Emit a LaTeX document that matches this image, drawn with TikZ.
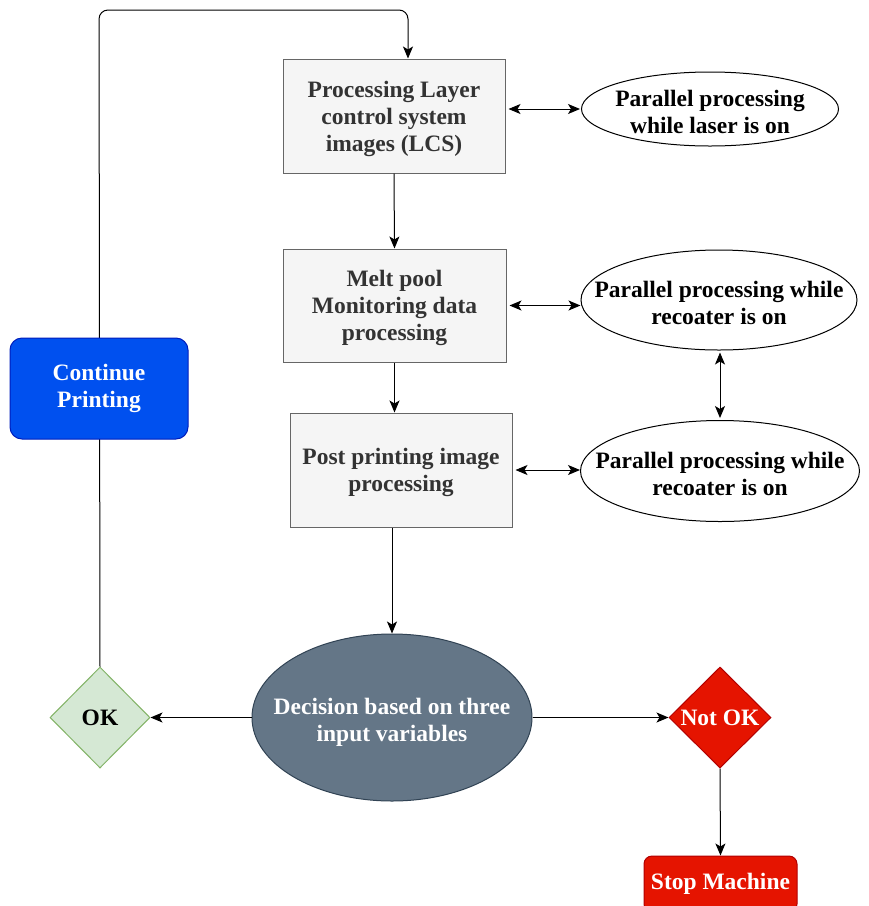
\documentclass[tikz,border=0pt]{standalone}
\usepackage{fontspec}
\setmainfont{Liberation Serif}
\usetikzlibrary{shapes.geometric,arrows.meta}
\definecolor{boxfill}{HTML}{F5F5F5}
\definecolor{boxline}{HTML}{666666}
\definecolor{boxtext}{HTML}{333333}
\definecolor{bluefill}{HTML}{0050EF}
\definecolor{blueline}{HTML}{001DBC}
\definecolor{slatefill}{HTML}{647687}
\definecolor{slateline}{HTML}{314354}
\definecolor{greenfill}{HTML}{D5E8D4}
\definecolor{greenline}{HTML}{82B366}
\definecolor{redfill}{HTML}{E51400}
\definecolor{redline}{HTML}{B20000}
\tikzset{
  x=1pt, y=-1pt,
  txt/.style={font=\bfseries\fontsize{23.5}{27}\selectfont, align=center, inner sep=0pt},
  lbl/.style={txt, yshift=-2.5pt},
  procbox/.style={draw=boxline, fill=boxfill, line width=1pt, inner sep=0pt, minimum width=#1, minimum height=114},
  ovalshape/.style={ellipse, inner sep=0pt, line width=1pt},
  oval/.style={ovalshape, draw=black, fill=white},
  conn/.style={line width=1pt, -{Stealth[length=12pt,width=10pt,inset=3pt]}},
  dconn/.style={line width=1pt, {Stealth[length=12pt,width=10pt,inset=3pt]}-{Stealth[length=12pt,width=10pt,inset=3pt]}},
}
\begin{document}
\begin{tikzpicture}
\clip (0,0) rectangle (869,906);
\fill[white] (0,0) rectangle (869,906);

\node[procbox=222,
  label={[lbl, text=boxtext]center:Processing Layer\\control system\\images (LCS)}] (box1) at (394,116) {};
\node[procbox=223, minimum height=113,
  label={[lbl, text=boxtext]center:Melt pool\\Monitoring data\\processing}] (box2) at (394.5,305.5) {};
\node[procbox=222,
  label={[lbl, text=boxtext]center:Post printing image\\processing}] (box3) at (401,470) {};

\node[oval, minimum width=257, minimum height=74,
  label={[lbl, text=black]center:Parallel processing\\while laser is on}] (ell1) at (710,109) {};
\node[oval, minimum width=276, minimum height=100,
  label={[lbl, text=black]center:Parallel processing while\\recoater is on}] (ell2) at (719,300) {};
\node[oval, minimum width=279, minimum height=101,
  label={[lbl, text=black]center:Parallel processing while\\recoater is on}] (ell3) at (720,471) {};

\node[ovalshape, draw=slateline, fill=slatefill, minimum width=280, minimum height=167,
  label={[lbl, text=white, yshift=-2pt]center:Decision based on three\\input variables}] (dec) at (392,717.5) {};

\node[txt, diamond, draw=greenline, fill=greenfill, text=black, line width=1pt, minimum width=100, minimum height=101, aspect=1] (ok) at (100,717.5) {OK};
\node[txt, diamond, draw=redline, fill=redfill, text=white, line width=1pt, minimum width=102, minimum height=101, aspect=1] (notok) at (720,717.5) {Not OK};
\node[txt, draw=redline, fill=redfill, text=white, line width=1pt, rounded corners=8pt, minimum width=153, minimum height=56] (stop) at (720.5,884) {Stop Machine};

% feedback loop
\coordinate (tl) at (99,10);
\coordinate (tr) at (408,10);
\draw[conn, rounded corners=9pt] (ok.north) -- (tl) -- (tr) -- (tr |- box1.north);

\node[txt, draw=blueline, fill=bluefill, text=white, line width=1pt, rounded corners=12pt, minimum width=178, minimum height=101] (cont) at (99,388.5) {Continue\\Printing};

% main flow
\draw[conn] (box1.south) -- (box2.north);
\draw[conn] (box2.south) -- (box2.south |- box3.north);
\draw[conn] (box3.south -| dec.north) -- (dec.north);

% side arrows
\draw[dconn, shorten <=3pt, shorten >=1pt] (ell1.west -| box1.east) -- (ell1.west);
\draw[dconn, shorten <=3pt] (box2.east) -- (box2.east -| ell2.west);
\draw[dconn, shorten <=3pt] (box3.east) -- (box3.east -| ell3.west);
\draw[dconn, shorten <=2pt, shorten >=2pt] (ell2.south -| ell3.north) -- (ell3.north);

% decision outputs
\draw[conn] (dec.west) -- (ok.east);
\draw[conn] (dec.east) -- (notok.west);
\draw[conn] (notok.south) -- (stop.north);
\end{tikzpicture}
\end{document}
